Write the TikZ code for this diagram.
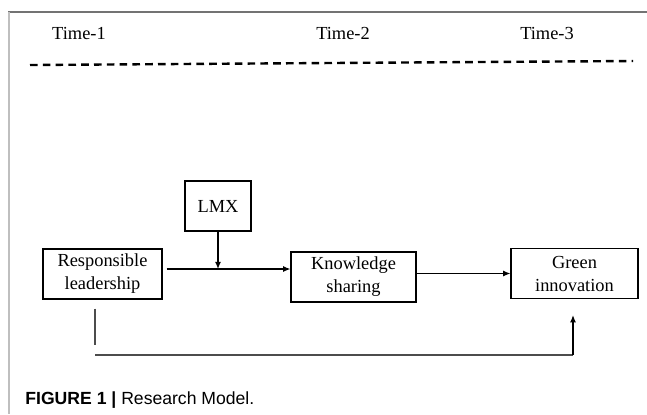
\documentclass[tikz,border=0pt]{standalone}
\usepackage{fontspec}
\setmainfont{Liberation Serif}
\newfontfamily\capfont{Liberation Sans}
\usepackage{tikz}
\usetikzlibrary{arrows.meta}

\begin{document}
\begin{tikzpicture}[x=0.5pt,y=-0.5pt,
        font={\fontsize{9.2}{11.5}\selectfont},
        box/.style={draw, line width=0.6pt, align=center, inner sep=0pt, minimum height=25pt},
        arr/.style={line width=0.6pt, -{Latex[length=3.6pt,width=3pt]}},
        link/.style={line width=0.6pt, black!70}]
        \useasboundingbox (0,0) rectangle (647,414);

        % Frame
        \draw[black!55, line width=0.7pt] (8,12) -- (647,12);
        \draw[black!25, line width=1pt] (9,12) -- (9,414);

        % Time points
        \node (t1) at (79,33) {Time-1};
        \node (t2) at (343,33) {Time-2};
        \node (t3) at (547,33) {Time-3};
        \coordinate (dashL) at (30,65);
        \coordinate (dashR) at (633,61);
        \draw[line width=1.2pt, dash pattern=on 3.8pt off 2.6pt] (dashL) -- (dashR);

        % Variables
        \node[box, minimum width=33pt] (lmx) at (218,206) {LMX};
        \node[box, minimum width=59.5pt] (resp) at (102.5,274) {Responsible\\leadership};
        \node[box, minimum width=62.5pt] (know) at (353.5,277) {Knowledge\\sharing};
        \node[box, minimum width=63.5pt] (green) at (574.5,273.5) {Green\\innovation};

        % Paths
        \coordinate (join) at (218,269);
        \draw[arr, shorten <=2pt] (resp.east |- join) -- (know.west |- join);
        \draw[arr] (lmx.south) -- (join);
        \draw[arr] (know.east |- green.west) -- (green.west);

        % Direct effect
        \coordinate (gapend) at (95,345);
        \coordinate (lowleft) at (95,355);
        \coordinate (lowright) at (573,355);
        \draw[link, shorten <=4.5pt] (resp.south -| gapend) -- (gapend);
        \draw[link] (lowleft) -- (lowright);
        \draw[arr, shorten >=8pt] (lowright) -- (green.south -| lowright);

        % Caption
        \node[anchor=west, inner sep=0pt, font={\capfont\fontsize{8.8}{10}\selectfont}] (cap) at (25,400)
            {\textbf{FIGURE 1 |} Research Model.};
    \end{tikzpicture}
\end{document}
